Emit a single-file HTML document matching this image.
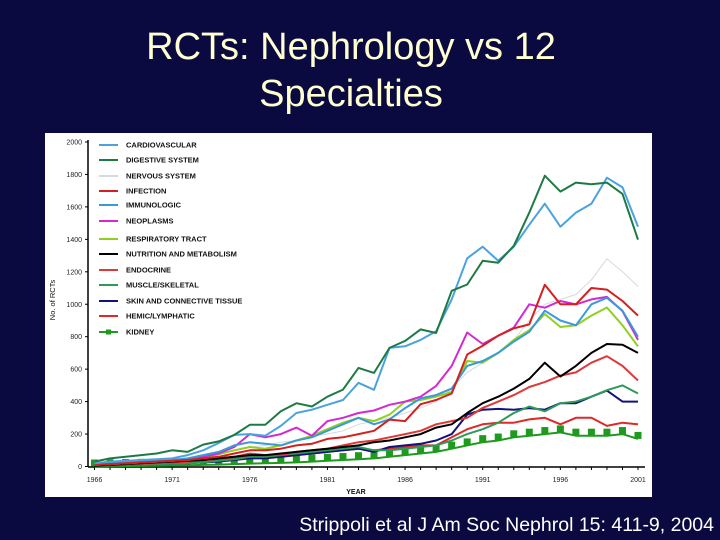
<!DOCTYPE html>
<html><head><meta charset="utf-8"><style>
html,body{margin:0;padding:0;background:#0b0a40;}
#root{position:relative;width:720px;height:540px;background:#0b0a40;overflow:hidden;font-family:"Liberation Sans",sans-serif;}
.title{position:absolute;left:0;width:702px;text-align:center;color:#ffffd0;font-size:38px;line-height:47px;top:24px;}
.cite{position:absolute;right:6px;top:514px;color:#fff;font-size:19.5px;}
svg{position:absolute;left:0;top:0;}
</style></head><body>
<div id="root">
<div class="title">RCTs: Nephrology vs 12<br>Specialties</div>
<svg id="chart" width="720" height="540"></svg>
<div class="cite">Strippoli et al J Am Soc Nephrol 15: 411-9, 2004</div>
</div>
<script>
const years=[1966,1967,1968,1969,1970,1971,1972,1973,1974,1975,1976,1977,1978,1979,1980,1981,1982,1983,1984,1985,1986,1987,1988,1989,1990,1991,1992,1993,1994,1995,1996,1997,1998,1999,2000,2001];
const yTicks=[0,200,400,600,800,1000,1200,1400,1600,1800,2000];
const xTicks=[1966,1971,1976,1981,1986,1991,1996,2001];
const seriesNames=["CARDIOVASCULAR","DIGESTIVE SYSTEM","NERVOUS SYSTEM","INFECTION","IMMUNOLOGIC","NEOPLASMS","RESPIRATORY TRACT","NUTRITION AND METABOLISM","ENDOCRINE","MUSCLE/SKELETAL","SKIN AND CONNECTIVE TISSUE","HEMIC/LYMPHATIC","KIDNEY"];
const cardio=[20,30,35,40,45,50,70,100,145,195,200,190,250,330,350,380,410,516,473,731,741,780,833,1030,1283,1355,1268,1355,1490,1620,1478,1565,1620,1780,1720,1478];
const digestive=[30,50,60,70,80,100,90,135,155,195,257,257,340,390,370,430,474,608,577,731,774,845,823,1083,1122,1268,1256,1360,1565,1792,1694,1750,1740,1750,1680,1398];
const nervous=[10,15,20,25,30,35,45,60,80,100,120,130,150,160,190,200,220,260,280,300,330,360,400,480,580,640,700,780,900,1000,1030,1060,1150,1280,1200,1110];
const infection=[10,15,20,25,30,35,40,50,60,80,100,100,110,130,140,170,180,200,220,289,280,384,410,450,690,744,806,851,876,1120,1000,1000,1100,1090,1020,930];
const immunologic=[15,20,25,30,35,40,50,70,90,130,150,140,130,160,180,220,260,300,260,290,360,420,440,480,620,650,700,770,830,960,900,870,1000,1040,960,800];
const neoplasms=[10,15,20,25,30,35,45,60,80,120,200,180,200,240,190,280,300,330,345,380,400,430,497,620,826,755,806,856,1000,979,1020,999,1030,1045,957,780];
const respiratory=[10,15,20,25,30,35,40,55,75,100,120,110,130,160,190,230,270,300,280,320,400,410,430,460,650,640,700,780,840,940,860,870,930,980,870,740];
const nutrition=[5,10,15,20,25,30,35,40,50,60,70,70,80,90,100,110,120,130,150,160,180,200,240,260,330,390,430,480,540,640,555,620,700,755,750,700];
const endocrine=[10,12,15,18,20,25,30,40,50,60,80,70,70,90,100,110,130,150,160,180,200,220,260,280,300,361,400,440,490,520,560,580,640,680,620,530];
const muscle=[5,8,10,12,15,18,20,25,35,45,60,60,70,80,90,100,110,120,100,100,110,120,130,160,200,230,270,330,370,340,390,400,430,470,500,450];
const skin=[5,8,10,12,15,18,20,25,30,40,50,50,60,70,80,90,100,110,90,120,130,140,160,200,320,350,355,350,360,350,390,390,430,468,400,400];
const hemic=[10,12,15,18,20,25,30,40,45,55,60,60,60,70,80,90,100,110,100,110,120,130,130,180,230,260,270,270,290,300,260,300,300,250,270,260];
const kidney=[0,2,3,4,5,6,8,10,12,15,18,20,22,25,30,35,40,45,50,60,70,80,90,110,130,150,160,180,190,200,210,190,190,190,200,170];

const NS="http://www.w3.org/2000/svg";
const svg=document.getElementById('chart');
function el(t,a,p){const e=document.createElementNS(NS,t);for(const k in a)e.setAttribute(k,a[k]);(p||svg).appendChild(e);return e;}
const X=v=>94.5+(v-1966)*(638-94.5)/35;
const Y=v=>466.5-v*(466.5-142)/2000;

const panel=el('rect',{x:45,y:133,width:607,height:364,fill:'#fff'});



const yAxis=el('line',{x1:88,y1:140,x2:88,y2:467,stroke:'#000','stroke-width':1.5});


const xAxis=el('line',{x1:88,y1:467,x2:645,y2:467,stroke:'#000','stroke-width':1.5});



yTicks.forEach(v=>{
  el('line',{x1:85,x2:88,y1:Y(v),y2:Y(v),stroke:'#000'});
  const t=el('text',{x:82,y:Y(v)+2.5,'font-size':7,'text-anchor':'end',fill:'#222'});
  t.textContent=v;
  
  
});
years.forEach(v=>el('line',{x1:X(v),x2:X(v),y1:467,y2:470,stroke:'#000'}));
xTicks.forEach(v=>{
  const t=el('text',{x:X(v),y:482,'font-size':7,'text-anchor':'middle',fill:'#222'});
  t.textContent=v;
  
  
});
const xt=el('text',{x:356,y:494,'font-size':7,'font-weight':'bold',fill:'#111','text-anchor':'middle'});
xt.textContent='YEAR';


const yt=el('text',{x:0,y:0,'font-size':7.5,fill:'#111','text-anchor':'middle',transform:'translate(55,300) rotate(-90)'});
yt.textContent='No. of RCTs';



const allSeries=[cardio,digestive,nervous,infection,immunologic,neoplasms,respiratory,nutrition,endocrine,muscle,skin,hemic,kidney];
const colors=['#4aa3df','#1e7a45','#d4dadd','#d42020','#3a9ad9','#d22ad0','#8ed020','#000000','#e03838','#2e9a5a','#12127a','#e02828','#1e9a1e'];
const legendY=[145,160,176,191,205,221,239,254,270,285,301,316,332];
const drawOrder=[2,12,11,10,9,8,7,6,5,4,3,0,1];
drawOrder.forEach(i=>{
  const pts=allSeries[i].map((v,j)=>X(years[j]).toFixed(1)+','+Y(v).toFixed(1)).join(' ');
  const pl=el('polyline',{points:pts,fill:'none',stroke:colors[i],'stroke-width':i===2?1:2,'stroke-linejoin':'round'});
  
  
  if(i===12){
    allSeries[i].forEach((v,j)=>{
      const r=el('rect',{x:X(years[j])-3.5,y:Y(v)-7,width:7,height:7,fill:colors[i]});
      
      
    });
  }
});
seriesNames.forEach((n,i)=>{
  const g=el('g',{});
  
  
  el('line',{x1:99,x2:118,y1:legendY[i],y2:legendY[i],stroke:colors[i],'stroke-width':2},g);
  if(i===12) el('rect',{x:106,y:legendY[i]-2.5,width:5,height:5,fill:colors[i]},g);
  const t=el('text',{x:126,y:legendY[i]+2.5,'font-size':7.5,'font-weight':'bold',fill:'#111'},g);
  t.textContent=n;
});
</script>
</body></html>
